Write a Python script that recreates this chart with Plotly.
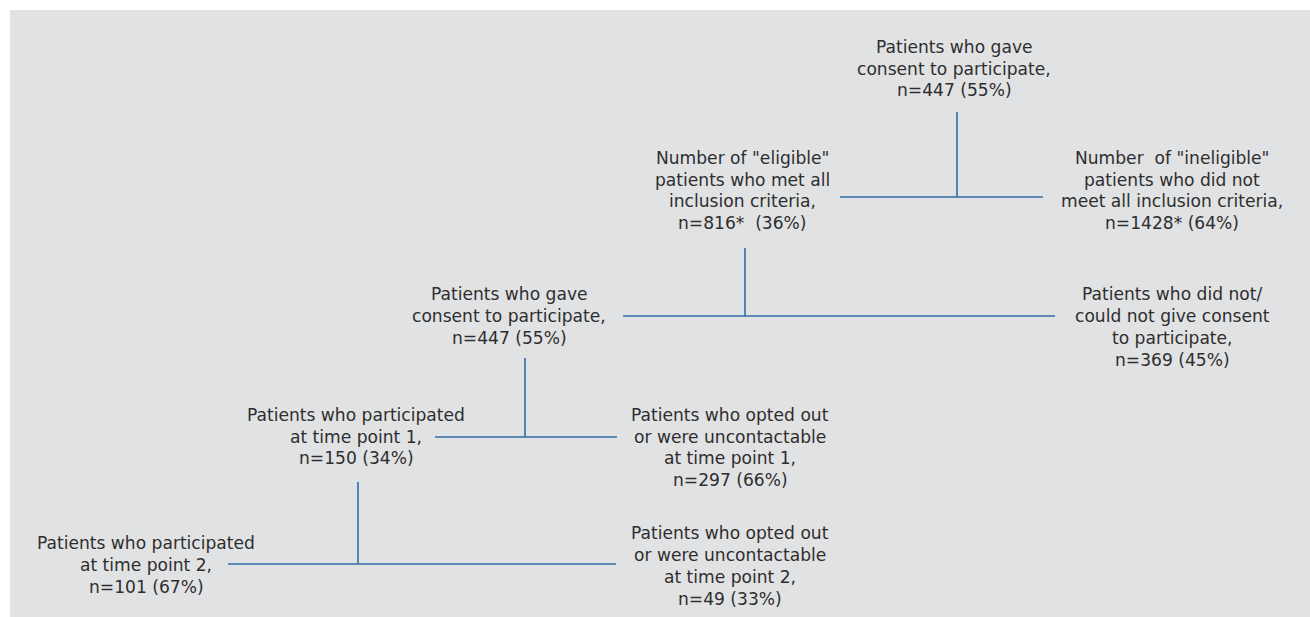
import plotly.graph_objects as go

# ---- data ----
node_labels = [
    "Patients who gave<br>consent to participate,",
    "Number of \"eligible\"<br>patients who met all<br>inclusion criteria,",
    "Number\u00a0 of \"ineligible\"<br>patients who did not<br>meet all inclusion criteria,",
    "Patients who gave<br>consent to participate,",
    "Patients who did not/<br>could not give consent<br>to participate,",
    "Patients who participated<br>at time point 1,",
    "Patients who opted out<br>or were uncontactable<br>at time point 1,",
    "Patients who participated<br>at time point 2,",
    "Patients who opted out<br>or were uncontactable<br>at time point 2,",
]
node_n = [447, 816, 1428, 447, 369, 150, 297, 101, 49]
node_n_suffix = ["", "*\u00a0", "*", "", "", "", "", "", ""]
node_pct = [55, 36, 64, 55, 45, 34, 66, 67, 33]

# ---- layout positions (pixel-like coordinates) ----
node_x = [954, 742, 1172, 509, 1172, 356, 730, 146, 730]
node_y = [68.5, 190.5, 190.5, 316, 327, 436.5, 447.5, 565, 566]
LINE_GAP = 21.7

# connectors: (stem x, stem top y, bar y, bar left x, bar right x)
connectors = [
    (957, 112, 197, 840, 1043),
    (745, 248, 316, 623, 1055),
    (525, 358, 437, 435, 617),
    (358, 482, 564, 228, 616),
]

LINE = "#2f6ca6"
TEXT = "#2e2e2e"
BG = "#e1e2e4"

xs, ys = [], []
for sx, sy0, by, bx0, bx1 in connectors:
    xs += [sx, sx, None, bx0, bx1, None]
    ys += [sy0, by, None, by, by, None]

fig = go.Figure()
fig.add_trace(go.Scatter(x=xs, y=ys, mode="lines",
                         line=dict(color=LINE, width=1.6),
                         hoverinfo="skip", showlegend=False))

for lab, n, suf, p, x, y in zip(node_labels, node_n, node_n_suffix, node_pct, node_x, node_y):
    lines = lab.split("<br>") + [f"n={n}{suf} ({p}%)"]
    top = y - (len(lines) - 1) * LINE_GAP / 2
    for i, ln in enumerate(lines):
        fig.add_annotation(
            x=x, y=top + i * LINE_GAP, xref="x", yref="y",
            text=ln, showarrow=False, align="center",
            xanchor="center", yanchor="middle",
            font=dict(family="DejaVu Sans, sans-serif", size=17.1, color=TEXT),
        )

fig.update_layout(
    width=1310, height=617,
    margin=dict(l=10, r=0, t=10, b=0),
    paper_bgcolor="white", plot_bgcolor=BG,
    xaxis=dict(range=[10, 1310], visible=False, fixedrange=True),
    yaxis=dict(range=[617, 10], visible=False, fixedrange=True),
    showlegend=False,
)

fig.write_html(
    "out.html",
    config={"displayModeBar": False},
    post_script="document.body.style.margin='0';document.body.style.overflow='hidden';",
)
